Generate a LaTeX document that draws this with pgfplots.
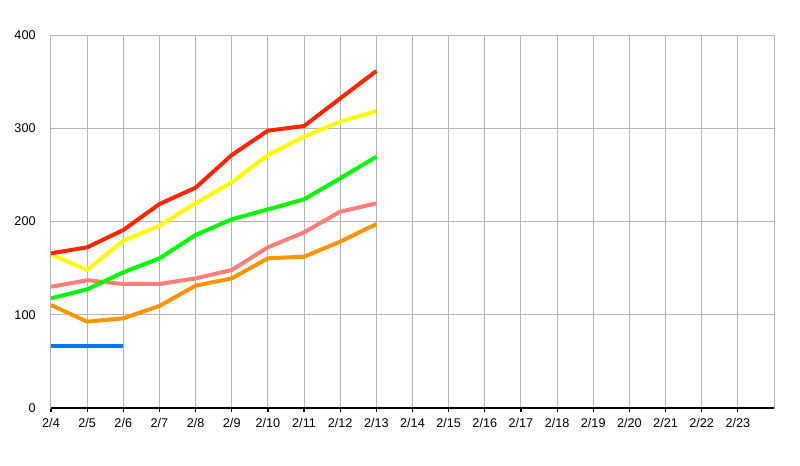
\documentclass[border=0pt]{standalone}
\usepackage{pgfplots}
\pgfplotsset{compat=1.18}
\usepackage{fontspec}
\setmainfont{Liberation Sans}
\definecolor{cRed}{HTML}{FF2600}
\definecolor{cYel}{HTML}{FFFB00}
\definecolor{cGrn}{HTML}{00F900}
\definecolor{cPnk}{HTML}{FF7E79}
\definecolor{cOrg}{HTML}{FF9300}
\definecolor{cBlu}{HTML}{0076FF}
\definecolor{cGrid}{HTML}{B4B4B4}
\begin{document}
\begin{tikzpicture}
\begin{axis}[
  scale only axis, width=542.25pt, height=279.75pt,
  xmin=0, xmax=20, ymin=0, ymax=400,
  xtick={0,1,...,19},
  xticklabels={2/4,2/5,2/6,2/7,2/8,2/9,2/10,2/11,2/12,2/13,2/14,2/15,2/16,2/17,2/18,2/19,2/20,2/21,2/22,2/23},
  ytick={0,100,200,300,400},
  grid=major, major grid style={color=cGrid, line width=0.75pt},
  axis line style={cGrid, line width=0.75pt},
  tick align=outside, xtick pos=bottom, ytick pos=left,
  major tick length=3pt,
  x tick style={black, line width=0.9pt},
  y tick style={draw=none},
  /pgf/number format/assume math mode=true,
  ticklabel style={font=\fontsize{9.5}{11}\selectfont},
  yticklabel style={xshift=-5pt},
  xticklabel style={yshift=-1pt},
  every axis plot/.append style={line width=3pt, line join=round},
]
\addplot[cBlu] coordinates {(0,66.5)(1,66.5)(2,66.5)};
\addplot[cOrg] coordinates {(0,110.5)(1,92.6)(2,96.2)(3,109.4)(4,131.2)(5,139)(6,160.5)(7,162.3)(8,178.4)(9,197.3)};
\addplot[cPnk] coordinates {(0,130)(1,137)(2,133)(3,133)(4,139)(5,148)(6,172.3)(7,188.4)(8,210.5)(9,219.5)};
\addplot[cGrn] coordinates {(0,117.6)(1,127.3)(2,145.5)(3,160.5)(4,185.5)(5,202.3)(6,213)(7,223.8)(8,246.3)(9,269.5)};
\addplot[cYel] coordinates {(0,164.8)(1,148)(2,179.4)(3,195.5)(4,219.5)(5,242)(6,271.3)(7,291)(8,307)(9,318.5)};
\addplot[cRed] coordinates {(0,165.9)(1,172.3)(2,190.9)(3,218.7)(4,236.3)(5,271.3)(6,297.4)(7,302.4)(8,332)(9,361.4)};
\draw[black, line width=1.1pt] (rel axis cs:0,0) -- (rel axis cs:1,0);
\end{axis}
\pgfresetboundingbox
\path (-38.25pt,-42.75pt) rectangle (561.75pt,306pt);
\end{tikzpicture}
\end{document}
